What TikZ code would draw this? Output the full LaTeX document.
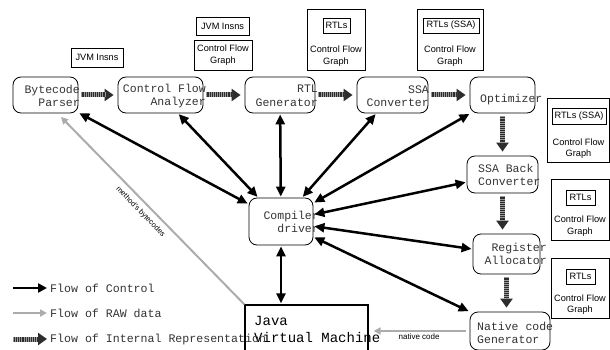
\documentclass[tikz,border=0pt]{standalone}
\usepackage{fontspec}
\setmainfont{Liberation Sans}
\setmonofont{Liberation Mono}
\usetikzlibrary{arrows.meta}

\begin{document}
\begin{tikzpicture}[
    x=1pt, y=-1pt,
    stage/.style={draw, rounded corners=8pt, line width=0.8pt, inner sep=0pt, minimum height=36pt},
    stagetext/.style={inner sep=0pt, text=black!80, font=\ttfamily\fontsize{11.5}{13.5}\selectfont},
    infobox/.style={draw, line width=0.6pt, inner sep=0pt, align=center, font=\fontsize{9.2}{11.5}\selectfont},
    infotext/.style={inner sep=0pt, align=center, font=\fontsize{9.2}{11.5}\selectfont},
    ctlflow/.style={line width=2.5pt, {Triangle[length=10pt,width=9pt]}-{Triangle[length=10pt,width=9pt]}, shorten <=1pt, shorten >=1pt},
    rawflow/.style={line width=2pt, draw=gray!65, -{Triangle[length=7pt,width=7pt]}},
    irflow/.style={line width=5pt, draw=gray!35!black, -{Triangle[length=9pt,width=12pt]}, shorten <=3pt, shorten >=4pt,
      postaction={draw=gray!80, line width=5pt, dash pattern=on 0.7pt off 1.4pt, shorten >=13pt, -}},
    legendtext/.style={anchor=west, inner sep=0pt, text=black!80, font=\ttfamily\fontsize{11.6}{13}\selectfont}
  ]
  \useasboundingbox (0,0) rectangle (610,350);

  % compiler stages
  \node[stage, minimum width=65pt] (parser) at (45.5,95) {};
  \node[stagetext, align=right, anchor=east] (parserlbl) at (80,96) {Bytecode\\Parser};
  \node[stage, minimum width=85pt] (cfa) at (160.5,95) {};
  \node[stagetext, align=right, anchor=east] (cfalbl) at (206,96) {Control Flow\\Analyzer};
  \node[stage, minimum width=70pt] (rtl) at (280,95) {};
  \node[stagetext, align=right, anchor=east] (rtllbl) at (318,96) {RTL\\Generator};
  \node[stage, minimum width=71pt] (ssa) at (392.5,95) {};
  \node[stagetext, align=right, anchor=east] (ssalbl) at (429,96) {SSA\\Converter};
  \node[stage, minimum width=65pt] (opt) at (502.5,95) {};
  \node[stagetext, anchor=west] (optlbl) at (480,100) {Optimizer};
  \node[stage, minimum width=71pt, minimum height=37pt] (ssaback) at (502.5,174.5) {};
  \node[stagetext, align=left, anchor=west] (ssabacklbl) at (478,175) {SSA Back\\Converter};
  \node[stage, minimum width=67pt, minimum height=40pt] (regalloc) at (506.5,254) {};
  \node[stagetext, align=right, anchor=east] (regalloclbl) at (547,254) {Register\\Allocator};
  \node[stage, minimum width=80pt, minimum height=38pt] (native) at (510,331) {};
  \node[stagetext, align=left, anchor=west] (nativelbl) at (477,333) {Native code\\Generator};
  \node[stage, minimum width=64pt, minimum height=47pt] (driver) at (281,221.5) {};
  \node[stagetext, align=right, anchor=east] (driverlbl) at (319,222) {Compiler\\driver};
  \node[draw, line width=1.2pt, minimum width=123pt, minimum height=48pt, inner sep=0pt] (jvm) at (306.5,329) {};
  \node[anchor=west, align=left, inner sep=0pt, font=\ttfamily\fontsize{14}{17}\selectfont] (jvmlbl) at (254,329) {Java\\Virtual Machine};

  % what flows between the stages
  \node[infobox, minimum width=52pt, minimum height=19pt] (insnsA) at (97,57.5) {JVM Insns};
  \node[infobox, minimum width=53pt, minimum height=18pt] (insnsB) at (222.5,26) {JVM Insns};
  \node[infobox, minimum width=58pt, minimum height=30pt] (cfgA) at (223,55) {Control Flow\\Graph};

  \node[infobox, minimum width=58pt, minimum height=61pt] (rtlinfo) at (336,39.5) {};
  \node[infobox, minimum width=27pt, minimum height=15pt] (rtlir) at (336.5,25.5) {RTLs};
  \node[infotext] (rtlcfg) at (336,56) {Control Flow\\Graph};

  \node[infobox, minimum width=66pt, minimum height=61pt] (ssainfo) at (450,39.5) {};
  \node[infobox, minimum width=56pt, minimum height=15pt] (ssair) at (451,25.5) {RTLs (SSA)};
  \node[infotext] (ssacfg) at (450,56) {Control Flow\\Graph};

  \node[infobox, minimum width=62pt, minimum height=64pt] (optinfo) at (578.5,130) {};
  \node[infobox, minimum width=54pt, minimum height=16pt] (optir) at (579,116) {RTLs (SSA)};
  \node[infotext] (optcfg) at (578.5,148.5) {Control Flow\\Graph};

  \node[infobox, minimum width=58pt, minimum height=61pt] (backinfo) at (580,209.5) {};
  \node[infobox, minimum width=29pt, minimum height=15pt] (backir) at (580.5,197.5) {RTLs};
  \node[infotext] (backcfg) at (580,226) {Control Flow\\Graph};

  \node[infobox, minimum width=58pt, minimum height=60pt] (reginfo) at (580,288) {};
  \node[infobox, minimum width=29pt, minimum height=15pt] (regir) at (580.5,276.5) {RTLs};
  \node[infotext] (regcfg) at (580,304.5) {Control Flow\\Graph};

  \draw[irflow] (parser.east) -- (cfa.west);
  \draw[irflow] (cfa.east) -- (rtl.west);
  \draw[irflow] (rtl.east) -- (ssa.west);
  \draw[irflow] (ssa.east) -- (opt.west);
  \draw[irflow] (opt.south) -- (ssaback.north);
  \draw[irflow] (ssaback.south) -- (ssaback.south |- regalloc.north);
  \draw[irflow] (regalloc.south) -- (regalloc.south |- native.north);

  \draw[ctlflow] (driver) -- (parser);
  \draw[ctlflow] (driver) -- (cfa);
  \draw[ctlflow] (driver) -- (rtl);
  \draw[ctlflow] (driver) -- (ssa);
  \draw[ctlflow] (driver) -- (opt);
  \draw[ctlflow] (driver) -- (ssaback);
  \draw[ctlflow] (driver) -- (regalloc);
  \draw[ctlflow] (driver) -- (native);
  \draw[ctlflow] (driver.south) -- (driver.south |- jvm.north);

  \draw[rawflow, shorten >=5pt] (jvm.north west) -- ([xshift=12pt]parser.south)
    node[pos=0.52, sloped, below=5pt, inner sep=0pt, font=\fontsize{7.5}{9}\selectfont] {method's bytecodes};
  \draw[rawflow, shorten <=4pt, shorten >=5pt] (native.west) -- (native.west -| jvm.east)
    node[midway, below=2pt, inner sep=0pt, font=\fontsize{8}{9}\selectfont] {native code};

  % legend
  \coordinate (ctlkey) at (13,288);
  \node[legendtext] (ctllbl) at (50,288) {Flow of Control};
  \draw[line width=2.5pt, -{Triangle[length=9pt,width=9pt]}, shorten >=3pt] (ctlkey) -- (ctllbl.west);
  \coordinate (rawkey) at (13,313);
  \node[legendtext] (rawlbl) at (50,313) {Flow of RAW data};
  \draw[rawflow, shorten >=3pt] (rawkey) -- (rawlbl.west);
  \coordinate (irkey) at (13,339);
  \node[legendtext] (irlbl) at (50,339) {Flow of Internal Representation};
  \draw[irflow, shorten <=0pt, shorten >=3pt, postaction={shorten >=12pt}] (irkey) -- (irlbl.west);
\end{tikzpicture}
\end{document}
